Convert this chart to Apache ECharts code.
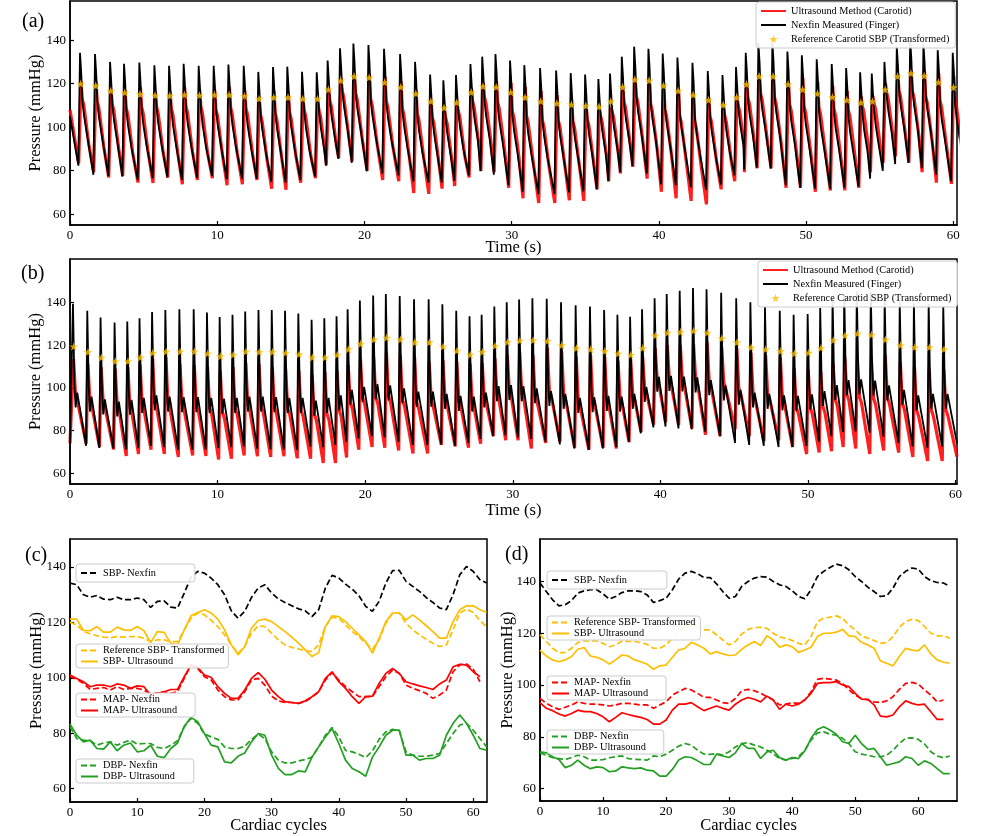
<!DOCTYPE html>
<html>
<head>
<meta charset="utf-8">
<script src="https://cdn.jsdelivr.net/npm/echarts@6/dist/echarts.min.js"></script>
<style>html,body{margin:0;padding:0;background:#fff}#chart{width:986px;height:836px}</style>
</head>
<body>
<div id="chart"></div>
<script>
// ---- panel (a) / (c): 63 cardiac cycles ----
var aPeakT = [0.68,1.70,2.72,3.67,4.71,5.73,6.73,7.72,8.74,9.76,10.76,11.80,12.79,13.79,14.76,15.76,16.76,17.50,18.34,19.25,
  20.27,21.33,22.42,23.44,24.46,25.36,26.22,27.20,28.00,28.90,29.89,30.86,31.93,33.02,34.01,34.99,35.89,36.68,37.48,38.32,
  39.29,40.26,41.26,42.28,43.32,44.32,45.24,45.90,46.76,47.71,48.73,49.71,50.72,51.74,52.72,53.67,54.46,55.32,56.16,57.07,
  57.97,58.94,59.96];
var sbpNexfinA = [134.2,133.6,130,129.1,129.7,128.4,128.2,129.1,128.2,128.2,128.8,128.2,125.4,127.6,127.8,125.5,125.2,130.6,136.3,138.4,
  137.8,136,133.6,130,124.2,121.5,124,129,132.4,133.6,130.6,128.5,127.2,126,124.9,124.2,122.1,124.6,132.4,137,
  136,133.8,132,129.6,125.8,124,127.6,134.2,138.7,138.8,134.8,133,131.2,129,127.2,125.2,124.6,130,137.2,140.2,
  138.4,135.4,134.2];
var refSbpA = [120,119.1,116.7,115.9,115.2,114.7,114.5,114.9,114.7,114.9,114.9,114.3,113.1,113.7,113.7,113.1,113.1,117.3,121.5,123.4,
  122.8,120.7,118.5,115.5,111.9,108.9,111.3,116.1,118.8,118.5,116.1,113.7,111.9,111,110.4,109.8,109.5,111.9,118.5,121.9,
  121.5,119.1,116.7,114.9,112.5,110.3,113.7,119.7,123.4,123.4,119.7,117.3,115.5,113.9,112.5,111.3,111.9,117.3,123.4,124.8,
  123.6,120.7,118.3];
var sbpUltraA = [121.2,121.2,117.1,117,118.5,116.5,116.5,118.3,117.3,117.1,118.5,117,112.7,116.7,116.4,112.5,111.9,117.3,122.4,123.6,
  124.6,123.4,121.2,117.3,111.9,108.3,111.3,117.9,120.7,121.2,120.3,118.5,116.7,114.7,112.5,110.1,107.7,109.1,118.5,122.4,
  122.1,120.3,117.9,115.5,113.1,108.9,114.3,120.3,123.4,123.4,120.9,122.7,120.9,118.8,116.7,114.3,114.3,120.3,124.6,126,
  126,124.6,123.6];
var mapNexfinA = [100.4,99.5,98,95.8,96.2,96.5,95.6,96.8,95.8,96.2,96.2,95.6,94,94.6,95,94.4,95,99.8,104.7,103.4,
  100.4,99.2,95.6,93.2,92,92,95,99.2,99.8,97.4,93.4,91.7,91.1,91.1,90.8,91.4,93,95,99.2,101.9,
  99.2,96.8,95,93.2,93.2,93.2,96.8,100.4,102.8,101.6,97.4,96.2,95.4,94.4,92.6,93.8,95.6,102.2,104.7,105,
  103.1,98.6];
var mapUltraA = [101,99.8,98.6,96.8,97.4,97.4,96.8,97.8,97.4,96.2,97.1,96.8,93.8,94.4,95,95.8,95.8,100.4,104.7,103.8,
  101,100.2,96.8,94.4,92.6,92.6,95.6,99.8,101.9,99.5,95.6,93.2,91.4,91.1,90.8,91.7,93.2,95,99.8,102.2,
  98.6,96.2,93.2,90.8,93.2,93.4,98,101.6,103.4,101.6,98.6,97.8,97.1,96.5,95.8,97.8,99.2,104,104.9,104.6,
  102.2,100.4];
var dbpNexfinA = [82.3,78.1,77.5,77.3,75.7,76.5,76.9,75.7,76.7,77.5,76.1,76.3,76.3,74.9,74.5,75.7,77.3,82.3,85.4,83.6,
  79.7,78.7,77.8,75.1,74.5,74.5,75.3,77.8,79.7,78.1,73.3,70.3,69.3,69.3,70,70.5,71.4,75.1,79.3,82.1,
  78.7,73.8,73.3,72.4,71.2,73.6,77.8,80.5,81.4,80.9,73.3,72.1,71.7,71.7,72.1,72.7,76.3,79.9,83,83.6,
  81.1,78.1,75.1];
var dbpUltraA = [83.3,79.3,76.9,77.5,74.5,74.3,76.9,73.7,75.7,76.5,73.3,73.7,75.7,71.7,71.2,74.5,76.5,82.5,85.7,84.2,
  79.9,75.7,75.1,69.7,69.3,71.7,72.9,76.9,79.9,79.3,72.1,67.3,65.1,65.1,66.4,66.1,71.4,75.1,78.7,81.7,
  76.3,70.3,67.3,66.1,64.5,71.4,75.1,79.3,81.1,81.1,72.1,72.1,70.3,70.9,70.9,72.1,79.3,83.6,86.6,83.6,
  79.3,74.5,73.9];
var startA = [105, 108];   // finger, carotid value at t = 0

// ---- panel (b) / (d): 66 cardiac cycles ----
var bPeakT = [0.2,1.17,2.07,3.02,3.88,4.71,5.56,6.46,7.41,8.38,9.28,10.14,11.01,11.87,12.77,13.67,14.57,15.47,16.37,17.23,
  18.06,18.81,19.64,20.54,21.4,22.34,23.31,24.3,25.23,26.17,27.07,27.89,28.75,29.59,30.43,31.33,32.3,33.27,34.26,35.23,
  36.19,37.09,37.95,38.76,39.61,40.43,41.31,42.21,43.13,44.12,45.14,46.1,47.09,48.09,49.03,49.98,50.83,51.67,52.46,53.31,
  54.26,55.2,56.22,57.18,58.18,59.17];
var sbpNexfinB = [139.4,136.1,132.9,130.6,131,132.6,135.5,136.4,136.8,136.8,135.2,133.2,134.2,135.7,136.4,136.4,136.1,134.8,131.9,132.6,
  133.5,136.8,140.9,143.2,143.9,143,141.5,141.5,139.1,136.1,133.5,134.2,138.1,140,141.3,141.9,141.7,140,138.7,138.1,
  136.4,134.2,133.3,136.8,141.9,143.9,145.4,146.7,146.1,144.5,141.9,140,137.8,136.1,134.2,134.5,137.4,141.9,143.9,145.2,
  144.8,141.9,140.3,139.6,139.4,138.1];
var refSbpB = [119.4,116.8,114.2,112.5,112.5,114.2,116.4,117,117,117,116.1,114.8,115.5,117,116.8,116.8,116.4,115.7,114.2,114.2,
  115.5,118.1,120.6,122.6,123.5,122.6,121.3,121.3,119.4,117.4,115.5,116.8,119.7,121.5,122.2,122.3,121.9,120,118.5,118.1,
  117.2,116.1,115.5,118.7,124.5,125.8,126.2,126.7,125.8,123.2,121.3,119,118.1,117.2,116.1,116.4,118.7,122.3,124.5,125.4,
  124.9,122.6,120,119,119,118.1];
var sbpUltraB = [113.5,111.2,109.7,109,109.7,111,113.8,114.5,111.2,110.7,109.7,108.1,109.7,111.6,111.2,109.7,109,108,106.1,107.4,
  107.7,110.7,113.5,114.2,116.5,115.5,114.2,112,112.9,112,111.4,111.6,113.8,115.5,116.8,115.2,119,117.4,114.6,115.5,
  114.8,112.6,113.5,114.6,118.7,120,120,120.4,121.5,119,118.7,116.5,115.5,114.2,109.3,108.4,107.4,111,114.2,113.5,
  113.2,115.5,112,109.7,108.8,108.4];
var mapNexfinB = [94.8,92.9,91.6,90.6,91.4,92.3,93.5,92.9,92.6,92.6,92.3,91.9,92.3,92.9,92.9,92.6,92.3,92.3,91,92.3,
  93.5,96.1,97.4,98.7,98.1,96.8,95.2,95.2,94.2,93.2,92.9,94.8,97.8,98.3,97.8,96.8,95.5,94.2,92.3,92.6,
  93.2,92.9,94.2,97.4,102.2,102.6,102.3,101.9,100.6,98.1,96.1,94.8,94.2,93.5,93.2,93.9,95.5,98.3,100.6,101,
  100.4,98.1,96.1,93.5,94.2];
var mapUltraB = [93.2,91,90.1,88.8,88,89,90.3,89.7,89.7,89,87.7,85.8,87.5,89.3,88.6,88,87.5,86.7,84.9,84.9,
  86.5,90.3,92.6,92.6,93.2,91.6,90.1,91,91.9,91,90.3,92.6,94.2,95.2,94.5,93.5,95.7,94.2,90.6,92.6,
  91.9,92.6,94.2,96.8,100.6,100.9,100.9,101.3,100,99.4,96.8,94.5,94.5,92.3,88,87.7,88.4,91.6,93.9,92.9,
  92.3,92.6,89.7,86.7,86.7];
var dbpNexfinB = [73.8,72.9,71.9,71.6,71.2,72,72.9,72.3,71,71,71.2,71.9,72.3,72.6,71.6,71.3,71.2,71,72.6,72.3,
  73.3,74.8,76.4,77.4,76.8,74.8,73.3,73.2,73.5,72.9,74.2,76.1,77.4,77.7,76.8,76.1,74.8,73.5,71.6,71,
  71.6,72.3,74.8,78.7,81.5,81.9,81,80.6,79.4,77.4,74.2,73.3,72.9,72.3,72.3,72.9,74.8,77.4,79.4,79.6,
  79,77.2,74.2,72.6,71.9,72.6];
var dbpUltraB = [74.2,73.8,72.3,71.2,68.1,69,71,69,67.7,68.4,68.1,66.5,66.8,68.4,68,67.7,68,67.1,66.8,64.8,
  64.8,67.4,71,72.3,72,70.7,69.3,69.3,73.3,72.6,72,73.8,77.4,75.5,75.5,71.6,74.2,74.8,72,71,
  72,71.6,74.5,79.4,82.8,83.9,82.6,81,78.1,77.4,80.6,77.4,75.1,75.5,72.3,69,69.7,70.3,72.3,71.6,
  69,70.7,69.7,67.7,65.8,65.8];
var startB = [74, 74];
var endB = [74, 67.8];     // value at right edge of (b)

var timeTicks = [0, 10, 20, 30, 40, 50, 60];
var cycleTicks = [0, 10, 20, 30, 40, 50, 60];
var pressTicks = [60, 80, 100, 120, 140];

var FONT = "'Liberation Serif', 'DejaVu Serif', 'Times New Roman', serif";
var RED = '#ff0000', GOLD = '#ffbf00', GREEN = '#22a022';
var STAR = 'path://M50,0 L61,35 L98,35 L68,57 L79,91 L50,70 L21,91 L32,57 L2,35 L39,35 Z';

function wave(peakT, sbp, map, dbp, kind) {
  var pts = [];
  peakT.forEach(function (tp, i) {
    var S = sbp[i], D = dbp[i], M = map[Math.min(i, map.length - 1)];
    if (kind === 'aN') pts.push([tp - 0.11, D], [tp, S], [tp + 0.08, S - 9], [tp + 0.16, M + 12], [tp + 0.27, M + 5], [tp + 0.5, M - 5]);
    if (kind === 'aU') pts.push([tp - 0.09, D], [tp + 0.07, S], [tp + 0.15, M + 12], [tp + 0.26, M + 9], [tp + 0.6, M - 9]);
    if (kind === 'bN') pts.push([tp - 0.08, D], [tp, S], [tp + 0.1, M + 7], [tp + 0.18, M - 4], [tp + 0.29, M + 3]);
    if (kind === 'bU') pts.push([tp - 0.07, D], [tp + 0.04, S], [tp + 0.18, M + 3], [tp + 0.32, M]);
  });
  return pts;
}
function idx(arr) { return arr.map(function (v, i) { return [i, v]; }); }
function stars(peakT, ref, dt) { return ref.map(function (v, i) { return [peakT[i] + dt, v]; }); }

var waveAU = [[0, startA[1]]].concat(wave(aPeakT, sbpUltraA, mapUltraA, dbpUltraA, 'aU'));
var waveAN = [[0, startA[0]]].concat(wave(aPeakT, sbpNexfinA, mapNexfinA, dbpNexfinA, 'aN'));
var waveBU = [[0, startB[1]]].concat(wave(bPeakT, sbpUltraB, mapUltraB, dbpUltraB, 'bU'), [[60.1, endB[1]]]);
var waveBN = [[0, startB[0]]].concat(wave(bPeakT, sbpNexfinB, mapNexfinB, dbpNexfinB, 'bN'), [[60.1, endB[0]]]);

function xAx(gi, max, ticks, name, gap) {
  return {
    type: 'value', gridIndex: gi, min: 0, max: max, name: name, nameLocation: 'middle', nameGap: gap,
    nameMoveOverlap: false,
    nameTextStyle: { fontFamily: FONT, fontSize: 16.5, color: '#000' },
    axisLine: { show: true, onZero: false, lineStyle: { color: '#000', width: 1.5 } },
    axisTick: { show: true, inside: true, length: 4, customValues: ticks, lineStyle: { color: '#000', width: 1.2 } },
    axisLabel: { customValues: ticks, fontFamily: FONT, fontSize: 13, color: '#000', margin: 4 },
    splitLine: { show: false }
  };
}
function yAx(gi, min, max, gap) {
  return {
    type: 'value', gridIndex: gi, min: min, max: max, name: 'Pressure (mmHg)', nameLocation: 'middle', nameGap: gap,
    nameMoveOverlap: false,
    nameTextStyle: { fontFamily: FONT, fontSize: 16.5, color: '#000' },
    axisLine: { show: true, onZero: false, lineStyle: { color: '#000', width: 1.5 } },
    axisTick: { show: true, inside: true, length: 4, customValues: pressTicks, lineStyle: { color: '#000', width: 1.2 } },
    axisLabel: { customValues: pressTicks, fontFamily: FONT, fontSize: 13, color: '#000', margin: 4 },
    splitLine: { show: false }
  };
}
function lineS(name, data, xi, color, width, dashed, z) {
  return {
    name: name, type: 'line', xAxisIndex: xi, yAxisIndex: xi, data: data, symbol: 'none', showSymbol: false,
    lineStyle: { color: color, width: width, type: dashed ? [6, 3] : 'solid' },
    itemStyle: { color: 'rgba(0,0,0,0)', borderWidth: 0 },
    z: z || 2, silent: true, animation: false
  };
}
function legendBox(names, left, top, pad, fs, lh, gap, iw) {
  return {
    data: names, orient: 'vertical', left: left, top: top, padding: pad, itemGap: gap,
    itemWidth: iw, itemHeight: 8, backgroundColor: 'rgba(255,255,255,0.9)', borderColor: '#cccccc',
    borderWidth: 1, borderRadius: 3, selectedMode: false,
    textStyle: { fontFamily: FONT, fontSize: fs, lineHeight: lh, color: '#000' }
  };
}

var wvNames = ['Ultrasound Method (Carotid)', 'Nexfin Measured (Finger)', 'Reference Carotid SBP (Transformed)'];

var option = {
  backgroundColor: '#fff',
  animation: false,
  title: [
    { text: '(a)', left: 22, top: 12 },
    { text: '(b)', left: 21, top: 264 },
    { text: '(c)', left: 25, top: 546 },
    { text: '(d)', left: 505, top: 545 }
  ].map(function (t) { t.padding = 0; t.textStyle = { fontFamily: FONT, fontSize: 20, fontWeight: 'normal', color: '#000' }; return t; }),
  grid: [
    { left: 70, width: 887, top: 1, height: 224 },
    { left: 70, width: 887, top: 259, height: 225 },
    { left: 70, width: 417, top: 539, height: 263 },
    { left: 540, width: 417, top: 539, height: 262 }
  ].map(function (g) { g.show = true; g.borderColor = '#000'; g.borderWidth = 1.5; g.containLabel = false; return g; }),
  xAxis: [
    xAx(0, 60.25, timeTicks, 'Time (s)', 14),
    xAx(1, 60.1, timeTicks, 'Time (s)', 18),
    xAx(2, 62.05, cycleTicks, 'Cardiac cycles', 15),
    xAx(3, 66.15, cycleTicks, 'Cardiac cycles', 16)
  ],
  yAxis: [yAx(0, 55, 158, 26), yAx(1, 55, 160.3, 26), yAx(2, 55.2, 150.1, 25), yAx(3, 55.2, 156.4, 23.5)],
  legend: [
    legendBox(wvNames, 756, 2, [3, 6, 3, 4], 10.3, 12, 2, 25),
    legendBox(wvNames, 758, 261, [3, 6, 3, 4], 10.3, 12, 2, 25),
    legendBox(['SBP- Nexfin'], 76, 564, [3, 39, 3, 4], 10.3, 12, 0, 17),
    legendBox(['Reference SBP- Transformed', 'SBP- Ultrasound'], 76, 644, [1, 4, 1, 4], 10.3, 11, 0, 17),
    legendBox(['MAP- Nexfin', 'MAP- Ultrasound'], 76, 693, [1, 18, 1, 4], 10.3, 11, 0, 17),
    legendBox(['DBP- Nexfin', 'DBP- Ultrasound'], 76, 759, [1, 19, 1, 4], 10.3, 11, 0, 17),
    legendBox(['SBP- Nexfin'], 547, 571, [3, 40, 3, 4], 10.3, 12, 0, 17),
    legendBox(['Reference SBP- Transformed', 'SBP- Ultrasound'], 547, 616, [1, 5, 1, 4], 10.3, 11, 0, 17),
    legendBox(['MAP- Nexfin', 'MAP- Ultrasound'], 547, 676, [1, 18, 1, 4], 10.3, 11, 0, 17),
    legendBox(['DBP- Nexfin', 'DBP- Ultrasound'], 547, 730, [1, 18, 1, 4], 10.3, 11, 0, 17)
  ],
  series: [
    lineS(wvNames[0], waveAU, 0, 'rgba(255,0,0,0.88)', 3.2, false, 2),
    lineS(wvNames[1], waveAN, 0, '#000', 1.8, false, 3),
    { name: wvNames[2], type: 'scatter', xAxisIndex: 0, yAxisIndex: 0, data: stars(aPeakT, refSbpA, 0.05),
      symbol: STAR, symbolSize: 9, symbolKeepAspect: true, itemStyle: { color: GOLD }, z: 4, silent: true },
    lineS(wvNames[0], waveBU, 1, 'rgba(255,0,0,0.88)', 3.2, false, 2),
    lineS(wvNames[1], waveBN, 1, '#000', 1.8, false, 3),
    { name: wvNames[2], type: 'scatter', xAxisIndex: 1, yAxisIndex: 1, data: stars(bPeakT, refSbpB, 0.05),
      symbol: STAR, symbolSize: 9, symbolKeepAspect: true, itemStyle: { color: GOLD }, z: 4, silent: true },

    lineS('SBP- Nexfin', idx(sbpNexfinA), 2, '#000', 1.7, true),
    lineS('Reference SBP- Transformed', idx(refSbpA), 2, GOLD, 1.7, true),
    lineS('SBP- Ultrasound', idx(sbpUltraA), 2, GOLD, 1.7, false),
    lineS('MAP- Nexfin', idx(mapNexfinA), 2, RED, 1.7, true),
    lineS('MAP- Ultrasound', idx(mapUltraA), 2, RED, 1.7, false),
    lineS('DBP- Nexfin', idx(dbpNexfinA), 2, GREEN, 1.7, true),
    lineS('DBP- Ultrasound', idx(dbpUltraA), 2, GREEN, 1.7, false),

    lineS('SBP- Nexfin', idx(sbpNexfinB), 3, '#000', 1.7, true),
    lineS('Reference SBP- Transformed', idx(refSbpB), 3, GOLD, 1.7, true),
    lineS('SBP- Ultrasound', idx(sbpUltraB), 3, GOLD, 1.7, false),
    lineS('MAP- Nexfin', idx(mapNexfinB), 3, RED, 1.7, true),
    lineS('MAP- Ultrasound', idx(mapUltraB), 3, RED, 1.7, false),
    lineS('DBP- Nexfin', idx(dbpNexfinB), 3, GREEN, 1.7, true),
    lineS('DBP- Ultrasound', idx(dbpUltraB), 3, GREEN, 1.7, false)
  ]
};

var chart = echarts.init(document.getElementById('chart'), null, { renderer: 'canvas' });
chart.setOption(option);
</script>
</body>
</html>
